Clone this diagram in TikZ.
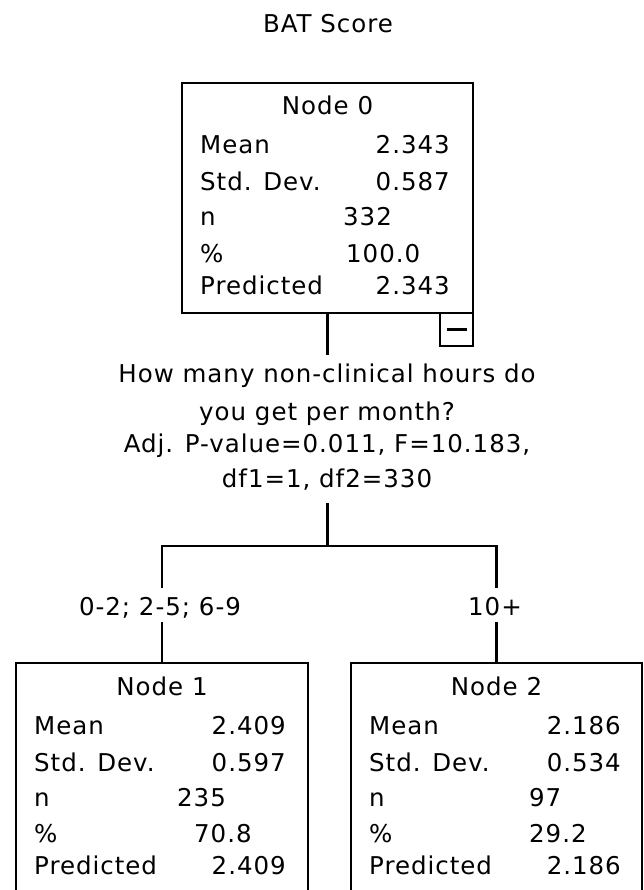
\documentclass[tikz,border=0pt]{standalone}
\usepackage{fontspec}
\setmainfont{DejaVu Sans}[LetterSpace=4]
\begin{document}
\begin{tikzpicture}[x=1pt,y=-1pt,
  txt/.style={font=\fontsize{24.5}{28}\selectfont, inner sep=0pt, text=black},
  box/.style={draw=black, line width=2.2pt, inner sep=0pt, fill=white},
  link/.style={draw=black, line width=2.2pt}]
\useasboundingbox (0,0) rectangle (644,890);
\clip (0,0) rectangle (644,890);

% title
\node[txt, anchor=base] (title) at (328,33) {BAT Score};

% Node 0
\node[box, minimum width=291pt, minimum height=230pt] (n0) at (327.5,198) {};
\node[txt, anchor=base] (n0t) at (327.5,115) {Node 0};
\node[txt, anchor=base west] (n0a) at (200,154) {Mean};
\node[txt, anchor=base east] (n0av) at (450,154) {2.343};
\node[txt, anchor=base west] (n0b) at (200,191) {Std. Dev.};
\node[txt, anchor=base east] (n0bv) at (450,191) {0.587};
\node[txt, anchor=base west] (n0c) at (200,226) {n};
\node[txt, anchor=base west] (n0cv) at (343,226) {332};
\node[txt, anchor=base west] (n0d) at (200,262) {\%};
\node[txt, anchor=base west] (n0dv) at (346,262) {100.0};
\node[txt, anchor=base west] (n0e) at (200,294) {Predicted};
\node[txt, anchor=base east] (n0ev) at (450,294) {2.343};
\node[box, minimum width=33pt, minimum height=33pt] (n0m) at (456.5,329.5) {};
\draw[link, line width=3pt] ([xshift=-10pt]n0m.center) -- ([xshift=10pt]n0m.center);

% split question
\coordinate (qtop) at (327.5,355);
\draw[link] (n0.south) -- (qtop);
\node[txt, anchor=base] (q1) at (327,382) {How many non-clinical hours do};
\node[txt, anchor=base] (q2) at (327,420) {you get per month?};
\node[txt, anchor=base] (q3) at (327,452) {Adj. P-value=0.011, F=10.183,};
\node[txt, anchor=base] (q4) at (327,487) {df1=1, df2=330};

\coordinate (qbot) at (327.5,503);
\coordinate (split) at (327.5,546);
\coordinate (l1) at (162,588);
\coordinate (l2) at (162,622);
\coordinate (r1) at (496.5,588);
\coordinate (r2) at (496.5,622);
\draw[link] (qbot) -- (split);
\draw[link] (l1) |- (split) -| (r1);

% branch labels
\node[txt, anchor=base] (lab1) at (160,615) {0-2; 2-5; 6-9};
\node[txt, anchor=base] (lab2) at (495,615) {10+};

% Node 1
\node[box, minimum width=292pt, minimum height=260pt] (n1) at (162,793) {};
\draw[link] (l2) -- (n1.north);
\node[txt, anchor=base] (n1t) at (162,695) {Node 1};
\node[txt, anchor=base west] (n1a) at (34,734) {Mean};
\node[txt, anchor=base east] (n1av) at (286,734) {2.409};
\node[txt, anchor=base west] (n1b) at (34,771) {Std. Dev.};
\node[txt, anchor=base east] (n1bv) at (286,771) {0.597};
\node[txt, anchor=base west] (n1c) at (34,806) {n};
\node[txt, anchor=base west] (n1cv) at (177,806) {235};
\node[txt, anchor=base west] (n1d) at (34,842) {\%};
\node[txt, anchor=base west] (n1dv) at (194,842) {70.8};
\node[txt, anchor=base west] (n1e) at (34,874) {Predicted};
\node[txt, anchor=base east] (n1ev) at (286,874) {2.409};

% Node 2
\node[box, minimum width=291pt, minimum height=260pt] (n2) at (496.5,793) {};
\draw[link] (r2) -- (n2.north);
\node[txt, anchor=base] (n2t) at (496.5,695) {Node 2};
\node[txt, anchor=base west] (n2a) at (369,734) {Mean};
\node[txt, anchor=base east] (n2av) at (621,734) {2.186};
\node[txt, anchor=base west] (n2b) at (369,771) {Std. Dev.};
\node[txt, anchor=base east] (n2bv) at (621,771) {0.534};
\node[txt, anchor=base west] (n2c) at (369,806) {n};
\node[txt, anchor=base west] (n2cv) at (529,806) {97};
\node[txt, anchor=base west] (n2d) at (369,842) {\%};
\node[txt, anchor=base west] (n2dv) at (529,842) {29.2};
\node[txt, anchor=base west] (n2e) at (369,874) {Predicted};
\node[txt, anchor=base east] (n2ev) at (621,874) {2.186};
\end{tikzpicture}
\end{document}
